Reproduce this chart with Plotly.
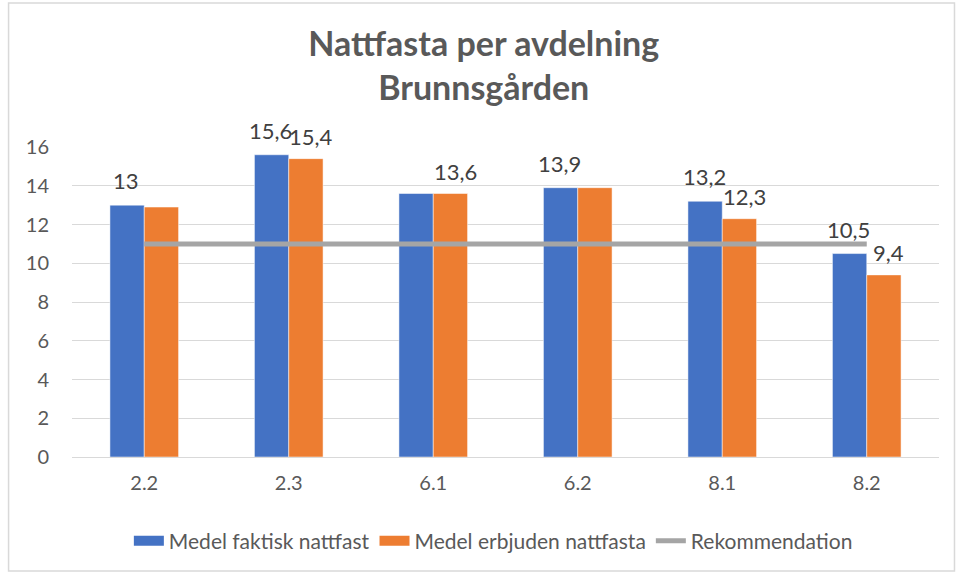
import plotly.graph_objects as go

categories = ["2.2", "2.3", "6.1", "6.2", "8.1", "8.2"]
faktisk = [13.0, 15.6, 13.6, 13.9, 13.2, 10.5]
erbjuden = [12.9, 15.4, 13.6, 13.9, 12.3, 9.4]
rekommendation = [11, 11, 11, 11, 11, 11]
faktisk_labels = ["13", "15,6", "", "13,9", "13,2", "10,5"]
erbjuden_labels = ["", "15,4", "13,6", "", "12,3", "9,4"]
y_ticks = [0, 2, 4, 6, 8, 10, 12, 14, 16]

BLUE, ORANGE, GREY = "#4472C4", "#ED7D31", "#A5A5A5"
FONT = "Lato, Open Sans, sans-serif"

W, H = 956, 573
L, R, T, B = 71.5, 16.5, 147, 116
pw, ph = W - L - R, H - T - B

fig = go.Figure()
fig.add_trace(go.Bar(x=categories, y=faktisk, name="Medel faktisk nattfast",
                     legendgroup="a", showlegend=False,
                     marker=dict(color=BLUE, line=dict(color="white", width=0.5))))
fig.add_trace(go.Bar(x=categories, y=erbjuden, name="Medel erbjuden nattfasta",
                     legendgroup="b", showlegend=False,
                     marker=dict(color=ORANGE, line=dict(color="white", width=0.5))))
fig.add_trace(go.Scatter(x=categories, y=rekommendation, name="Rekommendation",
                         mode="lines", line=dict(color=GREY, width=5), showlegend=False))
# legend entries (wide colour keys like the original)
fig.add_trace(go.Scatter(x=[None], y=[None], mode="lines", name="Medel faktisk nattfast",
                         legendgroup="a", line=dict(color=BLUE, width=13)))
fig.add_trace(go.Scatter(x=[None], y=[None], mode="lines", name="Medel erbjuden nattfasta",
                         legendgroup="b", line=dict(color=ORANGE, width=13)))
fig.add_trace(go.Scatter(x=[None], y=[None], mode="lines", name="Rekommendation",
                         line=dict(color=GREY, width=5)))

label_font = dict(family=FONT, size=22, color="#404040")
annotations = []
for i, (v, t) in enumerate(zip(faktisk, faktisk_labels)):
    if t:
        annotations.append(dict(x=i, y=v, text=t, xref="x", yref="y", showarrow=False,
                                xshift=-18, yshift=9, yanchor="bottom", font=label_font))
for i, (v, t) in enumerate(zip(erbjuden, erbjuden_labels)):
    if t:
        annotations.append(dict(x=i, y=v, text=t, xref="x", yref="y", showarrow=False,
                                xshift=22, yshift=7, yanchor="bottom", font=label_font))

def px_to_paper_x(px):
    return (px - L) / pw

def px_to_paper_y(py):
    return (H - B - py) / ph

fig.update_layout(
    width=W, height=H,
    margin=dict(l=L, r=R, t=T, b=B, autoexpand=False),
    paper_bgcolor="white", plot_bgcolor="white",
    title=dict(text="<b>Nattfasta per avdelning<br>Brunnsgården</b>",
               x=0.506, xanchor="center", y=0.903, yanchor="middle",
               font=dict(family=FONT, size=34, color="#595959")),
    barmode="group", bargap=0.525, bargroupgap=0,
    font=dict(family=FONT, color="#595959"),
    xaxis=dict(type="category", range=[-0.5, 5.5], showgrid=False, showline=True,
               linecolor="#D9D9D9", linewidth=1, ticklabelstandoff=8,
               ticks="", tickfont=dict(size=20, color="#595959"), automargin=False),
    yaxis=dict(range=[0, 16], tickvals=y_ticks, showgrid=True, gridcolor="#D9D9D9",
               gridwidth=1, zeroline=False, showline=False, ticks="", automargin=False,
               tickfont=dict(size=20, color="#595959"), ticklabelstandoff=22),
    legend=dict(orientation="h", x=0.486, xanchor="center", y=-0.271, yanchor="middle",
                font=dict(family=FONT, size=21, color="#595959"), itemwidth=30,
                tracegroupgap=0),
    annotations=annotations,
    shapes=[dict(type="rect", xref="paper", yref="paper",
                 x0=px_to_paper_x(8), x1=px_to_paper_x(955),
                 y0=px_to_paper_y(571), y1=px_to_paper_y(3),
                 line=dict(color="#D9D9D9", width=1.5), fillcolor="rgba(0,0,0,0)", layer="below")],
)

fig.write_html("out.html", config={"displayModeBar": False},
               post_script="document.body.style.margin='0';")
